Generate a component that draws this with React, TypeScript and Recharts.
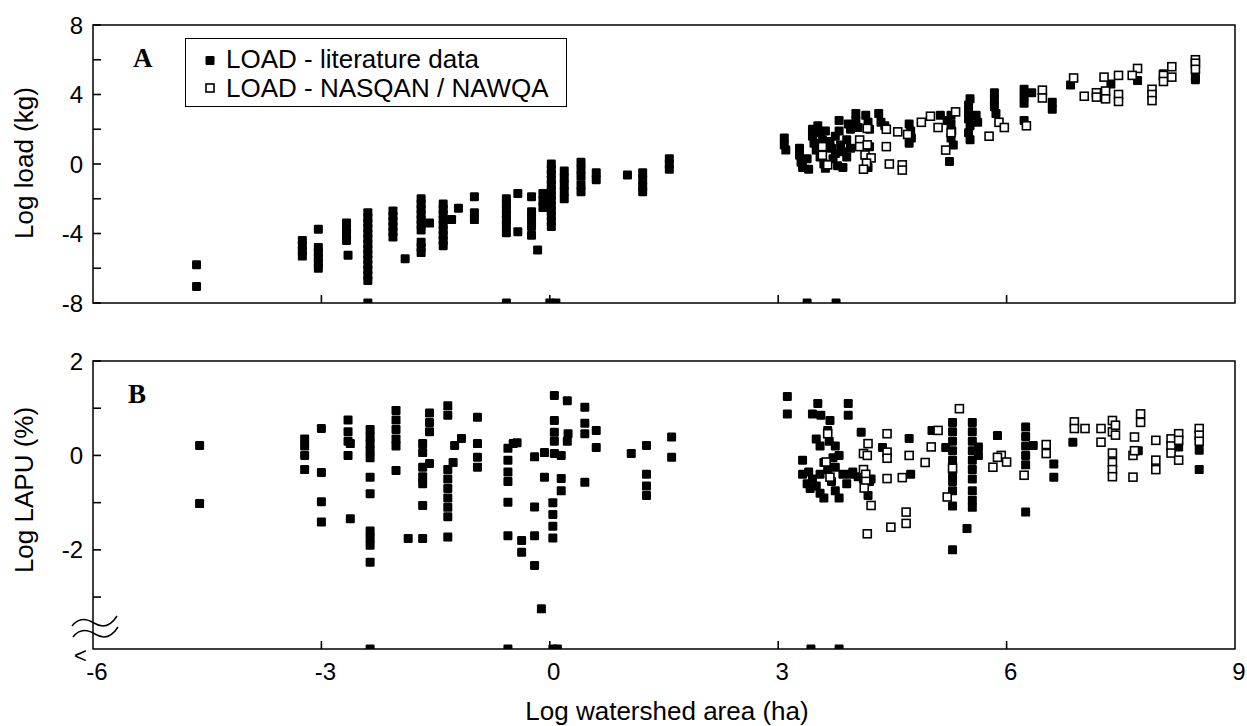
import React from 'react';
import { ScatterChart, Scatter, XAxis, YAxis, ReferenceArea, Legend } from 'recharts';

const FONT = '"Liberation Sans", Arial, Helvetica, sans-serif';
const SERIF = '"Liberation Serif", "Times New Roman", serif';

// ---------- axes ----------
const xTicks = [-6, -3, 0, 3, 6, 9];
const xInnerTicks = [-3, 0, 3, 6];
const xDomain: [number, number] = [-6, 9];
const loadTicks = [-8, -6, -4, -2, 0, 2, 4, 6, 8];
const loadLabelled = [-8, -4, 0, 4, 8];
const loadDomain: [number, number] = [-8, 8];
const lapuTicks = [-3, -2, -1, 0, 1, 2];
const lapuLabelled = [-2, 0, 2];
const lapuDomain: [number, number] = [-4.1, 2];

const seriesNames = ['LOAD - literature data', 'LOAD - NASQAN / NAWQA'];
const panelLetters = ['A', 'B'];
const yTitles = ['Log load (kg)', 'Log LAPU (%)'];
const xTitle = 'Log watershed area (ha)';

// ---------- panel A: log load ----------
const loadLiterature: [number, number][] = [
  [-4.64, -5.8], [-4.64, -7.05],
  [-3.25, -4.4], [-3.25, -4.7], [-3.25, -5.0], [-3.25, -5.3],
  [-3.04, -3.75], [-3.04, -4.8], [-3.04, -5.1], [-3.04, -5.4], [-3.04, -5.7], [-3.04, -6.0],
  [-2.67, -3.4], [-2.67, -3.7], [-2.67, -4.0], [-2.67, -4.4], [-2.65, -5.25],
  [-2.39, -2.8], [-2.39, -3.1], [-2.39, -3.4], [-2.39, -3.7], [-2.39, -4.0], [-2.39, -4.3], [-2.39, -4.6],
  [-2.39, -4.9], [-2.39, -5.2], [-2.39, -5.5], [-2.39, -5.8], [-2.39, -6.1], [-2.39, -6.4], [-2.39, -6.7], [-2.39, -8],
  [-2.06, -2.7], [-2.06, -3.0], [-2.06, -3.3], [-2.06, -3.6], [-2.06, -3.9], [-2.06, -4.2],
  [-1.9, -5.45],
  [-1.69, -2.0], [-1.69, -2.3], [-1.69, -2.6], [-1.69, -2.9], [-1.69, -3.2], [-1.69, -3.5], [-1.69, -3.8],
  [-1.69, -4.5], [-1.69, -4.8], [-1.69, -5.1], [-1.58, -3.4],
  [-1.4, -2.3], [-1.4, -2.6], [-1.4, -2.9], [-1.4, -3.2], [-1.4, -3.5], [-1.4, -3.8], [-1.4, -4.1], [-1.4, -4.4], [-1.4, -4.7],
  [-1.29, -3.2], [-1.2, -2.55],
  [-0.99, -1.88], [-0.99, -2.8], [-0.99, -3.2],
  [-0.57, -2.0], [-0.57, -2.3], [-0.57, -2.6], [-0.57, -2.9], [-0.57, -3.2], [-0.57, -3.5], [-0.57, -3.95], [-0.57, -8],
  [-0.42, -1.7], [-0.42, -3.9],
  [-0.24, -1.88], [-0.24, -2.75], [-0.24, -3.15], [-0.24, -3.6], [-0.24, -4.1],
  [-0.16, -4.95],
  [0.02, 0.0], [0.02, -0.3], [0.02, -0.6], [0.02, -0.9], [0.02, -1.2], [0.02, -1.5], [0.02, -1.8],
  [0.02, -2.1], [0.02, -2.4], [0.02, -2.7], [0.02, -3.0], [0.02, -3.3], [0.02, -3.6],
  [-0.09, -1.7], [-0.09, -2.1], [-0.09, -2.5], [0.0, -8], [0.08, -8],
  [0.19, -0.4], [0.19, -0.8], [0.19, -1.2], [0.19, -1.6], [0.19, -2.0],
  [0.41, 0.1], [0.41, -0.3], [0.41, -0.7], [0.41, -1.2], [0.41, -1.6],
  [0.61, -0.5], [0.61, -0.9],
  [1.02, -0.63],
  [1.22, -0.5], [1.22, -0.9], [1.22, -1.3], [1.22, -1.6],
  [1.57, 0.3], [1.57, 0.0], [1.57, -0.3],
  [3.08, 1.5], [3.08, 1.1], [3.1, 0.8], [3.28, 0.9], [3.28, 0.5], [3.3, 0.1], [3.32, -0.2], [3.38, 0.3],
  [3.4, -0.3], [3.38, -8], [3.45, 2.0], [3.45, 1.6], [3.47, 1.2], [3.5, 0.8], [3.52, 2.2], [3.55, 1.8],
  [3.55, 0.4], [3.58, 1.4], [3.6, 0.0], [3.62, 1.9], [3.62, -0.25], [3.68, 1.3], [3.7, 0.9], [3.72, 0.3],
  [3.75, 1.6], [3.75, 0.6], [3.76, -8], [3.78, -0.1], [3.8, 2.5], [3.8, 1.9], [3.82, 1.1], [3.85, 0.7],
  [3.85, -0.2], [3.9, 1.4], [3.9, 0.4], [3.95, 0.9], [3.95, 2.0], [3.92, 2.3],
  [4.02, 2.9], [4.02, 2.5], [4.05, 2.1], [4.15, 2.8], [4.18, 2.4], [4.2, 2.0], [4.2, 1.0], [4.18, -0.2],
  [4.32, 2.9], [4.35, 2.4], [4.4, 2.2],
  [4.72, 2.3], [4.74, 1.9], [4.75, 1.5], [4.72, 1.2],
  [5.13, 2.8], [5.22, 2.5], [5.27, 2.8], [5.27, 2.3], [5.28, 1.9], [5.27, 1.5], [5.3, 1.1], [5.25, 0.15],
  [5.52, 3.75], [5.5, 3.4], [5.5, 3.0], [5.5, 2.6], [5.52, 2.2], [5.5, 1.8], [5.52, 1.4], [5.6, 2.8], [5.62, 2.4],
  [5.84, 4.1], [5.84, 3.7], [5.84, 3.3], [5.86, 2.9],
  [6.23, 4.3], [6.23, 3.9], [6.23, 3.5], [6.33, 4.1], [6.23, 2.5],
  [6.6, 3.55], [6.6, 3.15],
  [6.84, 4.55], [7.37, 4.6], [7.72, 4.8], [8.06, 5.2], [8.48, 5.0], [8.48, 4.85],
];

const loadNasqan: [number, number][] = [
  [3.58, 1.0], [3.58, 0.5], [3.65, -0.05],
  [4.07, 1.38], [4.07, 1.0], [4.17, 1.1], [4.14, 0.52], [4.22, 0.35], [4.16, 0.05], [4.12, -0.3],
  [4.17, 2.05], [4.42, 2.0], [4.42, 1.0], [4.46, 0.0], [4.63, -0.05], [4.63, -0.35],
  [4.57, 1.85], [4.7, 1.7], [4.88, 2.4], [5.0, 2.75], [5.1, 2.1], [5.33, 3.0], [5.27, 1.8], [5.2, 0.8],
  [5.77, 1.6], [5.9, 2.4], [5.97, 2.1], [6.26, 2.2], [6.47, 4.25], [6.47, 3.8],
  [6.88, 4.95], [7.02, 3.9], [7.18, 4.1], [7.18, 3.85], [7.28, 5.0], [7.3, 4.2], [7.3, 3.75],
  [7.47, 5.1], [7.47, 4.0], [7.47, 3.6], [7.72, 5.5], [7.65, 5.1],
  [7.91, 4.3], [7.91, 4.0], [7.91, 3.65], [8.06, 5.1], [8.06, 4.75], [8.17, 5.6], [8.17, 5.0],
  [8.48, 6.0], [8.48, 5.8], [8.48, 5.45],
];

// ---------- panel B: log LAPU ----------
const lapuLiterature: [number, number][] = [
  [-4.6, 0.21], [-4.6, -1.02],
  [-3.22, 0.35], [-3.22, 0.2], [-3.22, 0.0], [-3.22, -0.3],
  [-3.0, 0.57], [-3.0, -0.36], [-3.0, -0.98], [-3.0, -1.41],
  [-2.65, 0.75], [-2.65, 0.5], [-2.65, 0.3], [-2.65, 0.0], [-2.62, 0.25], [-2.62, -1.34],
  [-2.36, 0.55], [-2.36, 0.4], [-2.36, 0.25], [-2.36, 0.1], [-2.36, -0.05], [-2.36, -0.46], [-2.36, -0.81],
  [-2.36, -1.6], [-2.36, -1.75], [-2.36, -1.9], [-2.36, -2.26], [-2.36, -4.1],
  [-2.02, 0.95], [-2.02, 0.75], [-2.02, 0.55], [-2.02, 0.35], [-2.02, 0.2], [-2.02, -0.32],
  [-1.86, -1.76],
  [-1.67, -1.76], [-1.67, -1.06], [-1.67, -0.25], [-1.67, -0.45], [-1.67, -0.6], [-1.67, 0.25], [-1.67, 0.06],
  [-1.58, 0.9], [-1.58, 0.7], [-1.58, 0.5], [-1.58, -0.17],
  [-1.34, 1.05], [-1.34, 0.85], [-1.34, -0.3], [-1.34, -0.5], [-1.34, -0.7], [-1.34, -0.9], [-1.34, -1.1],
  [-1.34, -1.3], [-1.34, -1.73], [-1.27, -0.15], [-1.25, 0.21], [-1.16, 0.36],
  [-0.95, 0.81], [-0.95, 0.25], [-0.95, -0.04], [-0.95, -0.25],
  [-0.55, 0.15], [-0.55, -0.1], [-0.55, -0.35], [-0.55, -0.55], [-0.55, -0.99], [-0.55, -1.7],
  [-0.48, 0.25], [-0.43, 0.27], [-0.55, -4.1],
  [-0.37, -1.8], [-0.37, -2.05],
  [-0.2, -0.03], [-0.2, -1.09], [-0.2, -1.7], [-0.2, -2.33],
  [-0.11, -3.25],
  [0.04, -1.0], [0.04, -1.25], [0.04, -1.5], [0.04, -1.75], [0.04, -4.1], [0.1, -4.1],
  [0.06, 1.27], [0.06, 0.74], [0.06, 0.49], [0.06, 0.3], [0.06, 0.04], [-0.07, 0.06], [-0.07, -0.46],
  [0.15, 0.0], [0.15, -0.49], [0.15, -0.75], [0.23, 1.16], [0.24, 0.46], [0.23, 0.3],
  [0.46, 1.02], [0.46, 0.68], [0.46, 0.46], [0.46, -0.57], [0.61, 0.53], [0.61, 0.17],
  [1.07, 0.04], [1.27, 0.21], [1.27, -0.4], [1.27, -0.65], [1.27, -0.85], [1.6, 0.39], [1.6, -0.04],
  [3.12, 1.25], [3.12, 0.88], [3.32, -0.1], [3.32, -0.4], [3.45, 0.88], [3.52, 1.1], [3.56, 0.85],
  [3.68, 0.74], [3.65, 0.53], [3.92, 1.1], [3.92, 0.85], [3.5, 0.35], [3.55, 0.2], [3.67, 0.3],
  [3.75, 0.2], [3.8, 0.0], [3.72, -0.05], [3.4, -0.35], [3.45, -0.5], [3.5, -0.65], [3.55, -0.8],
  [3.6, -0.9], [3.55, -0.4], [3.65, -0.3], [3.7, -0.55], [3.75, -0.75], [3.8, -0.9], [3.85, -0.4],
  [3.9, -0.6], [3.95, -0.4], [3.6, -0.15], [3.75, -0.25], [3.42, -0.7], [3.38, -0.6], [3.98, -0.35],
  [4.09, 0.49], [4.05, -0.45], [4.12, -0.5], [4.2, -0.55], [4.18, -0.85], [4.37, 0.17], [4.22, -0.5],
  [3.43, -4.1], [3.8, -4.1],
  [4.72, 0.36], [4.74, -0.4], [5.02, 0.53], [5.2, 0.17],
  [5.29, 0.7], [5.29, 0.5], [5.29, 0.3], [5.29, 0.1], [5.29, -0.1], [5.29, -0.4], [5.29, -0.55],
  [5.29, -0.75], [5.29, -1.07], [5.29, -2.0], [5.48, -1.55],
  [5.55, 0.7], [5.55, 0.5], [5.55, 0.3], [5.55, 0.1], [5.55, -0.1], [5.55, -0.3], [5.55, -0.5],
  [5.55, -0.75], [5.55, -0.95], [5.55, -1.1], [5.63, 0.0], [5.63, 0.18], [5.88, 0.42],
  [6.25, 0.6], [6.25, 0.4], [6.25, 0.2], [6.25, 0.0], [6.25, -0.2], [6.35, 0.21], [6.25, -1.2],
  [6.62, -0.18], [6.62, -0.46], [6.87, 0.28], [7.73, 0.1], [8.26, 0.18], [8.53, 0.11], [8.53, -0.3],
];

const lapuNasqan: [number, number][] = [
  [3.65, 0.46], [3.63, -0.14], [3.68, -0.46],
  [4.18, 0.25], [4.12, 0.04], [4.17, 0.0], [4.12, -0.3], [4.15, -0.4], [4.15, -0.55], [4.13, -0.69],
  [4.22, -1.06], [4.17, -1.66], [4.43, 0.46], [4.43, 0.07], [4.43, -0.06], [4.43, -0.49],
  [4.48, -1.52], [4.68, -1.44], [4.68, -1.2], [4.63, -0.47], [4.72, 0.0], [4.93, -0.15], [5.01, 0.18],
  [5.1, 0.53], [5.38, 0.99], [5.29, -0.27], [5.22, -0.88], [5.82, -0.25], [5.93, 0.0], [5.88, -0.04],
  [6.0, -0.14], [6.23, -0.42], [6.52, 0.23], [6.52, 0.04],
  [6.89, 0.71], [6.89, 0.57], [7.03, 0.57], [7.24, 0.57], [7.24, 0.28],
  [7.39, 0.74], [7.39, 0.5], [7.39, 0.05], [7.39, -0.15], [7.39, -0.3], [7.39, -0.45], [7.43, 0.64], [7.43, 0.43],
  [7.68, 0.39], [7.66, 0.0], [7.68, 0.1], [7.66, -0.46], [7.76, 0.88], [7.76, 0.7],
  [7.96, 0.32], [7.96, -0.1], [7.96, -0.3], [8.16, 0.35], [8.16, 0.2], [8.16, 0.05],
  [8.26, 0.46], [8.26, 0.32], [8.26, -0.1], [8.53, 0.57], [8.53, 0.43], [8.53, 0.3],
];

const toPoints = (pairs: [number, number][]) => pairs.map(([x, y]) => ({ x, y }));

// ---------- shapes ----------
const FilledSquare = (p: any) => (
  <rect x={p.cx - 4.5} y={p.cy - 4.5} width={9} height={9} rx={1.2} fill="#000" />
);
const HollowSquare = (p: any) => (
  <rect x={p.cx - 4} y={p.cy - 4} width={8} height={8} fill="#fff" stroke="#000" strokeWidth={1.6} />
);

// ---------- ticks ----------
const makeYTick = (labelled: number[]) => (props: any) => {
  const { x, y, payload } = props;
  const v = payload.value;
  return (
    <g>
      <path d={`M${x},${y}h8`} stroke="#000" strokeWidth={1.6} fill="none" />
      {labelled.includes(v) && (
        <text x={x - 10} y={y} textAnchor="end" dominantBaseline="central"
          fontFamily={FONT} fontSize={24} fill="#000">{v}</text>
      )}
    </g>
  );
};
const BottomTickPlain = (props: any) => {
  const { x, y } = props;
  return <path d={`M${x},${y}v-8`} stroke="#000" strokeWidth={1.6} fill="none" />;
};
const BottomTickLabelled = (props: any) => {
  const { x, y, payload } = props;
  const inner = xInnerTicks.includes(payload.value);
  return (
    <g>
      {inner && <path d={`M${x},${y}v-8`} stroke="#000" strokeWidth={1.6} fill="none" />}
      <text x={x + 4} y={y + 31} textAnchor="middle" fontFamily={FONT} fontSize={24} fill="#000">
        {payload.value}
      </text>
    </g>
  );
};
const TopTick = (props: any) => {
  const { x, y } = props;
  return <path d={`M${x},${y}v8`} stroke="#000" strokeWidth={1.6} fill="none" />;
};

const LegendBox = () => (
  <div style={{
    position: 'relative', width: 382, height: 69, border: '1px solid #000', boxSizing: 'border-box',
    background: '#fff', fontFamily: FONT, fontSize: 26, color: '#000',
  }}>
    {seriesNames.map((name, i) => (
      <div key={name} style={{ position: 'absolute', left: 0, top: 6 + i * 29, height: 29, width: 380 }}>
        <svg width={30} height={29} style={{ position: 'absolute', left: 9, top: 0 }}>
          {i === 0
            ? <rect x={10.5} y={11} width={9} height={9} rx={1.2} fill="#000" />
            : <rect x={11} y={10} width={8} height={8} fill="#fff" stroke="#000" strokeWidth={1.6} />}
        </svg>
        <span style={{ position: 'absolute', left: 40, top: 0, lineHeight: '29px', whiteSpace: 'nowrap' }}>{name}</span>
      </div>
    ))}
  </div>
);

type PanelProps = {
  filled: [number, number][];
  hollow: [number, number][];
  yTicks: number[];
  labelled: number[];
  domain: [number, number];
  height: number;
  margin: { top: number; right: number; bottom: number; left: number };
  bottomLabels: boolean;
  legend: boolean;
};

const Panel = ({ filled, hollow, yTicks, labelled, domain, height, margin, bottomLabels, legend }: PanelProps) => (
  <ScatterChart width={1247} height={height} margin={margin}>
    <XAxis dataKey="x" type="number" domain={xDomain} ticks={bottomLabels ? xTicks : xInnerTicks}
      interval={0} height={1} tickSize={0} tickMargin={0} axisLine={false} tickLine={false}
      tick={bottomLabels ? BottomTickLabelled : BottomTickPlain} allowDataOverflow />
    <XAxis xAxisId="top" orientation="top" type="number" domain={xDomain} ticks={xInnerTicks}
      interval={0} height={1} tickSize={0} tickMargin={0} axisLine={false} tickLine={false}
      tick={TopTick} allowDataOverflow />
    <YAxis dataKey="y" type="number" domain={domain} ticks={yTicks} interval={0} width={93}
      tickSize={0} tickMargin={0} axisLine={false} tickLine={false} tick={makeYTick(labelled)} allowDataOverflow />
    <ReferenceArea x1={xDomain[0]} x2={xDomain[1]} y1={domain[0]} y2={domain[1]}
      fill="none" fillOpacity={0} stroke="#000" strokeWidth={1.5} strokeOpacity={1} ifOverflow="visible" />
    <Scatter name={seriesNames[0]} data={toPoints(filled)} shape={FilledSquare} isAnimationActive={false} />
    <Scatter name={seriesNames[1]} data={toPoints(hollow)} shape={HollowSquare} isAnimationActive={false} />
    {legend && (
      <Legend layout="vertical" align="center" verticalAlign="middle"
        wrapperStyle={{ left: 185, top: 38, width: 382, height: 69 }} content={() => <LegendBox />} />
    )}
  </ScatterChart>
);

export default function App() {
  return (
    <div style={{ position: 'absolute', left: 0, top: 0, width: 1247, height: 726, background: '#fff', overflow: 'hidden' }}>
      <div style={{ position: 'absolute', left: 0, top: 0 }}>
        <Panel filled={loadLiterature} hollow={loadNasqan} yTicks={loadTicks} labelled={loadLabelled}
          domain={loadDomain} height={320} margin={{ top: 24, right: 12, bottom: 16, left: 0 }}
          bottomLabels={false} legend={true} />
      </div>
      <div style={{ position: 'absolute', left: 0, top: 320 }}>
        <Panel filled={lapuLiterature} hollow={lapuNasqan} yTicks={lapuTicks} labelled={lapuLabelled}
          domain={lapuDomain} height={406} margin={{ top: 40, right: 12, bottom: 76, left: 0 }}
          bottomLabels={true} legend={false} />
      </div>
      <svg width={1247} height={726} style={{ position: 'absolute', left: 0, top: 0, pointerEvents: 'none' }}>
        <text x={133} y={67} fontFamily={SERIF} fontWeight="bold" fontSize={27} fill="#000">{panelLetters[0]}</text>
        <text x={128} y={403} fontFamily={SERIF} fontWeight="bold" fontSize={27} fill="#000">{panelLetters[1]}</text>
        <text transform="translate(33,163) rotate(-90)" textAnchor="middle" fontFamily={FONT} fontSize={26} fill="#000">{yTitles[0]}</text>
        <text transform="translate(33,490) rotate(-90)" textAnchor="middle" fontFamily={FONT} fontSize={26} fill="#000">{yTitles[1]}</text>
        <text x={667} y={720} textAnchor="middle" fontFamily={FONT} fontSize={26} fill="#000">{xTitle}</text>
        <path d="M72,626 C78,618 86,618 94,623 S110,627 117,616" fill="none" stroke="#000" strokeWidth={1.5} />
        <path d="M73,637 C79,629 87,629 95,634 S111,638 118,627" fill="none" stroke="#000" strokeWidth={1.5} />
        <text x={74} y={663} fontFamily={FONT} fontSize={22} fill="#000">&lt;</text>
      </svg>
    </div>
  );
}
